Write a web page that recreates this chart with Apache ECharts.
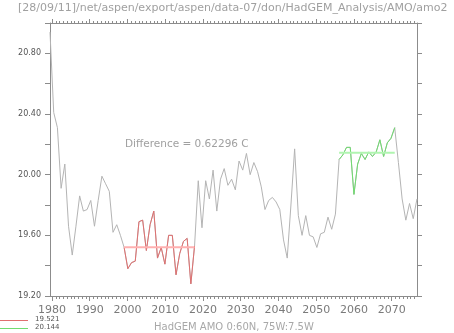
<!DOCTYPE html>
<html>
<head>
<meta charset="utf-8">
<script src="https://cdn.jsdelivr.net/npm/echarts@6/dist/echarts.min.js"></script>
<style>
  html, body { margin: 0; padding: 0; background: #ffffff; }
  #chart { width: 454px; height: 333px; }
</style>
</head>
<body>
<div id="chart"></div>
<script>
// HadGEM AMO index (0:60N, 75W:7.5W), one value per model year
const startYear = 1979.47;
const yearStep = 0.982;
const amo = [
  20.94, 20.41, 20.31, 19.91, 20.07, 19.66, 19.47, 19.66, 19.86, 19.76,
  19.77, 19.83, 19.66, 19.83, 19.99, 19.94, 19.89, 19.62, 19.67, 19.60,
  19.52, 19.38, 19.42, 19.43, 19.69, 19.70, 19.50, 19.67, 19.76, 19.45,
  19.52, 19.41, 19.60, 19.60, 19.34, 19.48, 19.56, 19.58, 19.28, 19.53,
  19.96, 19.65, 19.96, 19.84, 20.03, 19.76, 19.97, 20.04, 19.93, 19.97,
  19.90, 20.09, 20.03, 20.14, 20.00, 20.08, 20.02, 19.92, 19.77, 19.83,
  19.85, 19.82, 19.77, 19.57, 19.45, 19.80, 20.17, 19.73, 19.60, 19.73,
  19.60, 19.59, 19.52, 19.61, 19.62, 19.72, 19.64, 19.74, 20.10, 20.13,
  20.18, 20.18, 19.87, 20.07, 20.14, 20.10, 20.15, 20.12, 20.15, 20.23,
  20.12, 20.21, 20.24, 20.31, 20.08, 19.84, 19.70, 19.81, 19.71, 19.84
];

// Averaging periods (index ranges into amo) and their means
const periodA = [20, 39];
const periodB = [78, 93];
const meanA = 19.521;
const meanB = 20.144;
const difference = 0.62296;

// Axis ranges and tick labels
const xMin = 1979.47, xMax = 2076.7;
const yMin = 19.2, yMax = 21.0, yStep = 0.2;
const decadeTicks = [1980, 1990, 2000, 2010, 2020, 2030, 2040, 2050, 2060, 2070];
const yearTicks = [];
for (let y = 1980; y <= 2076; y++) yearTicks.push(y);

const titleText = '[28/09/11]/net/aspen/export/aspen/data-07/don/HadGEM_Analysis/AMO/amo2';
const footText = 'HadGEM AMO 0:60N, 75W:7.5W';

const timeOf = i => startYear + i * yearStep;
const points = amo.map((v, i) => [timeOf(i), v]);
const slice = p => points.slice(p[0], p[1] + 1);
const meanLine = (p, m) => [[timeOf(p[0]), m], [timeOf(p[1]), m]];

const axisGray = '#8c8c8c';
const font = 'DejaVu Sans';
const colA = '#e07070', colB = '#70dc70';

function xAxisDef(position, ticks, len, showLine, labels) {
  return {
    type: 'value', min: xMin, max: xMax, position: position,
    axisLine: { show: showLine, lineStyle: { color: axisGray, width: 1 } },
    axisTick: { show: true, customValues: ticks, length: len, inside: false,
                lineStyle: { color: axisGray, width: 1 } },
    axisLabel: labels ? {
      show: true, customValues: ticks, margin: 9,
      color: '#7a7a7a', fontFamily: font, fontSize: 11,
      formatter: v => String(Math.round(v))
    } : { show: false },
    splitLine: { show: false }
  };
}

function yAxisDef(position, labels) {
  return {
    type: 'value', min: yMin, max: yMax, interval: yStep, position: position,
    axisLine: { show: true, lineStyle: { color: axisGray, width: 1 } },
    axisTick: { show: true, length: 5, inside: false, lineStyle: { color: axisGray, width: 1 } },
    axisLabel: labels ? {
      show: true, margin: 9, color: '#555555', fontFamily: font, fontSize: 8,
      formatter: v => (Math.abs(Math.round(v / 0.4) * 0.4 - v) < 1e-6 ? v.toFixed(2) : '')
    } : { show: false },
    splitLine: { show: false }
  };
}

// Key for the two period means, bottom-left corner
function keyEntry(y, color, label) {
  return [
    { type: 'rect', left: 0, top: y, shape: { width: 28, height: 1 }, style: { fill: color } },
    { type: 'text', left: 35, top: y - 4,
      style: { text: label, fill: '#555555', font: '7px "DejaVu Sans"' } }
  ];
}

const chart = echarts.init(document.getElementById('chart'), null, { renderer: 'canvas' });
chart.setOption({
  animation: false,
  backgroundColor: '#ffffff',
  grid: { left: 50, right: 37, top: 23, bottom: 37, containLabel: false },
  xAxis: [
    xAxisDef('bottom', decadeTicks, 5, true, true),
    xAxisDef('bottom', yearTicks, 3, false, false),
    xAxisDef('top', decadeTicks, 4, true, false),
    xAxisDef('top', yearTicks, 2, false, false)
  ],
  yAxis: [yAxisDef('left', true), yAxisDef('right', false)],
  graphic: [
    { type: 'text', left: 18, top: 3,
      style: { text: titleText, fill: '#a0a0a0', font: '11px "DejaVu Sans"' } },
    { type: 'text', left: 125, top: 139,
      style: { text: 'Difference = ' + difference.toFixed(5) + ' C', fill: '#a0a0a0',
               font: '10.5px "DejaVu Sans"' } },
    { type: 'text', left: 154, top: 322,
      style: { text: footText, fill: '#a8a8a8', font: '10px "DejaVu Sans"' } }
  ].concat(keyEntry(320, colA, meanA.toFixed(3)), keyEntry(328, colB, meanB.toFixed(3))),
  series: [
    { type: 'line', name: 'AMO', data: points, showSymbol: false, silent: true,
      lineStyle: { color: '#b4b4b4', width: 1 } },
    { type: 'line', name: 'period A', data: slice(periodA), showSymbol: false,
      lineStyle: { color: colA, width: 1 } },
    { type: 'line', name: 'period B', data: slice(periodB), showSymbol: false,
      lineStyle: { color: colB, width: 1 } },
    { type: 'line', name: 'mean A', data: meanLine(periodA, meanA), showSymbol: false,
      lineStyle: { color: '#ffb0b0', width: 2 } },
    { type: 'line', name: 'mean B', data: meanLine(periodB, meanB), showSymbol: false,
      lineStyle: { color: '#b0f5b0', width: 2 } }
  ]
});
</script>
</body>
</html>
